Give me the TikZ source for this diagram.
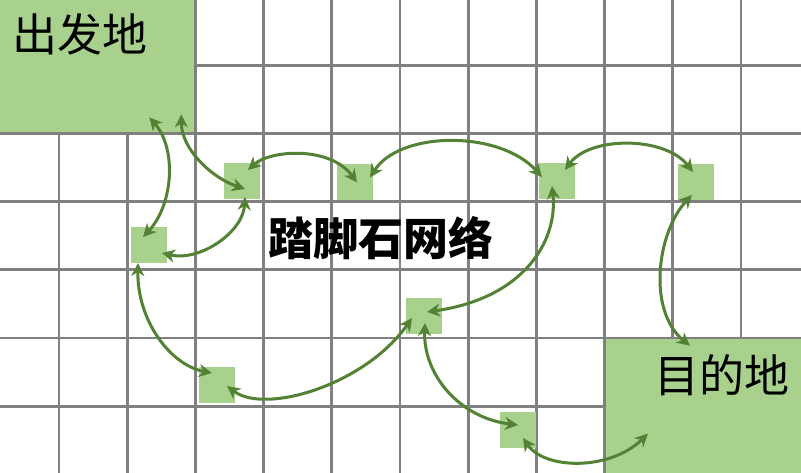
\documentclass[tikz,border=0pt]{standalone}
\usepackage{fontspec}
\newfontfamily\cjk{Noto Sans CJK SC}
\usetikzlibrary{arrows.meta}
\definecolor{gridgray}{HTML}{808080}
\definecolor{boxgreen}{HTML}{A9D18E}
\definecolor{arrgreen}{HTML}{548235}
\tikzset{
  gridline/.style={draw=gridgray, line width=2.8pt},
  bigbox/.style={fill=boxgreen, draw=none, inner sep=0pt, outer sep=0pt, anchor=north west},
  stone/.style={fill=boxgreen, draw=none, inner sep=0pt, outer sep=0pt, minimum width=36pt, minimum height=36pt},
  arr/.style={draw=arrgreen, line width=3pt, {Stealth[length=13pt,width=13pt,inset=4pt]}-{Stealth[length=13pt,width=13pt,inset=4pt]}},
  lbl/.style={inner sep=0pt, font=\cjk\fontsize{45}{50}\selectfont}
}
\begin{document}
\begin{tikzpicture}[x=1pt,y=-1pt]
\useasboundingbox (0,0) rectangle (801,473);
\fill[white] (0,0) rectangle (801,473);
% grid
\foreach \k in {0,...,10} \draw[gridline] ({59+68.2*\k},0) -- ({59+68.2*\k},473);
\foreach \k in {1,...,6} \draw[gridline] (0,{-3+68.2*\k}) -- (801,{-3+68.2*\k});
% start and destination areas
\node[bigbox, minimum width=194pt, minimum height=132pt] (S) at (0,0) {};
\node[bigbox, minimum width=195.1pt, minimum height=133.6pt] (T) at (605.9,339.4) {};
% stepping stones
\node[stone] (A) at (241.5,181) {};
\node[stone] (B) at (355,182.5) {};
\node[stone] (C) at (149,245.5) {};
\node[stone] (D) at (557,181.5) {};
\node[stone] (E) at (695.5,182) {};
\node[stone] (F) at (423.5,316) {};
\node[stone] (G) at (217,385) {};
\node[stone] (H) at (517.5,429.5) {};
% labels
\node[lbl] (ls) at (80,34) {出发地};
\node[lbl] (lt) at (722,375) {目的地};
\node[lbl, font=\cjk\bfseries\fontsize{45}{50}\selectfont] (ln) at (381,238) {踏脚石网络};
% connectors
\draw[arr] ([shift={(52.3,51.3)}]S.center) .. controls +(28,32) and +(30,-32) .. ([shift={(-6,-8.5)}]C.center);
\draw[arr] ([shift={(84.3,48.3)}]S.center) .. controls +(0,35) and +(-33,-11) .. ([shift={(3.5,8)}]A.center);
\draw[arr] ([shift={(3.5,16)}]A.center) .. controls +(-2,35) and +(38,9) .. ([shift={(13,7.5)}]C.center);
\draw[arr] ([shift={(6.5,-11)}]A.center) .. controls +(22,-20) and +(-27,-37) .. ([shift={(2,0)}]B.center);
\draw[arr] ([shift={(15,-5)}]B.center) .. controls +(30,-47) and +(-42,-47) .. ([shift={(-15,-4.5)}]D.center);
\draw[arr] ([shift={(8,-11.5)}]D.center) .. controls +(25,-34) and +(-28,-36) .. ([shift={(-2.5,-10)}]E.center);
\draw[arr] ([shift={(-5,4.5)}]D.center) .. controls +(6,54) and +(98,-14) .. ([shift={(3.5,-4)}]F.center);
\draw[arr] ([shift={(-3.5,13)}]E.center) .. controls +(-35,37) and +(-43,-35) .. ([shift={(-13.5,-60.5)}]T.center);
\draw[arr] ([shift={(-11,17.5)}]C.center) .. controls +(-1,57) and +(-42,-8) .. ([shift={(-5,-12)}]G.center);
\draw[arr] ([shift={(10,1)}]G.center) .. controls +(38,29) and +(-47,67) .. ([shift={(-11.5,2)}]F.center);
\draw[arr] ([shift={(1.5,7)}]F.center) .. controls +(-2,52) and +(-58,-7) .. ([shift={(0.5,-4.5)}]H.center);
\draw[arr] ([shift={(5.5,8.5)}]H.center) .. controls +(22,32) and +(-38,37) .. ([shift={(-55.5,27.5)}]T.center);
\end{tikzpicture}
\end{document}
